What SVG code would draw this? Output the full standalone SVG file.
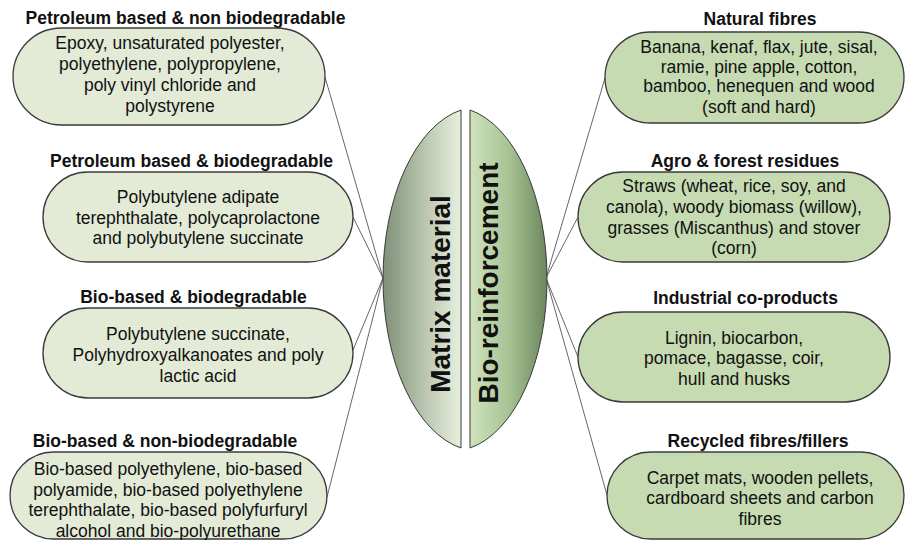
<svg xmlns="http://www.w3.org/2000/svg" width="906" height="540" viewBox="0 0 906 540">
<style>
text{font-family:"Liberation Sans",Arial,sans-serif;fill:#111;}
.h{font-size:17.5px;font-weight:bold;text-anchor:middle;}
.b{font-size:17.5px;text-anchor:middle;}
.c{font-size:28px;font-weight:bold;text-anchor:middle;}
.bl{fill:#e3ebd7;stroke:#3a3a3a;stroke-width:1.3;}
.br{fill:#c6dbb1;stroke:#3a3a3a;stroke-width:1.3;}
.ln{stroke:#555;stroke-width:0.9;fill:none;}
</style>
<defs>
<linearGradient id="gL" x1="0" y1="0" x2="1" y2="0">
<stop offset="0" stop-color="#7f8f78"/>
<stop offset="0.5" stop-color="#b6c3ac"/>
<stop offset="1" stop-color="#e8f0de"/>
</linearGradient>
<linearGradient id="gR" x1="0" y1="0" x2="1" y2="0">
<stop offset="0" stop-color="#cfe3bd"/>
<stop offset="0.5" stop-color="#a8c394"/>
<stop offset="1" stop-color="#6c865e"/>
</linearGradient>
</defs>
<rect width="906" height="540" fill="#fff"/>
<g id="connectors">
<line class="ln" x1="383" y1="278" x2="325" y2="77"/>
<line class="ln" x1="383" y1="278" x2="353" y2="217"/>
<line class="ln" x1="383" y1="278" x2="353" y2="350"/>
<line class="ln" x1="383" y1="278" x2="327" y2="497"/>
<line class="ln" x1="546" y1="278" x2="605" y2="78"/>
<line class="ln" x1="546" y1="278" x2="578" y2="217"/>
<line class="ln" x1="546" y1="278" x2="578" y2="357"/>
<line class="ln" x1="546" y1="278" x2="607" y2="495"/>
</g>
<g id="matrix">
<path d="M461,110 A95.8,172 0 0 0 461,448 Z" fill="url(#gL)" stroke="#3a3a3a" stroke-width="1"/>
<text class="c" transform="translate(450,294) rotate(-90)">Matrix material</text>
</g>
<g id="bioreinforcement">
<path d="M470,110 A94.6,172 0 0 1 470,448 Z" fill="url(#gR)" stroke="#3a3a3a" stroke-width="1"/>
<text class="c" transform="translate(498,283) rotate(-90)">Bio-reinforcement</text>
</g>
<g id="petro-nonbio">
<text class="h" x="185.5" y="24">Petroleum based &amp; non biodegradable</text>
<rect class="bl" x="13" y="28" width="312" height="97" rx="48.5"/>
<text class="b" x="170" y="49">Epoxy, unsaturated polyester,</text>
<text class="b" x="170" y="70">polyethylene, polypropylene,</text>
<text class="b" x="170" y="91">poly vinyl chloride and</text>
<text class="b" x="170" y="112">polystyrene</text>
</g>
<g id="petro-bio">
<text class="h" x="191.5" y="166.5">Petroleum based &amp; biodegradable</text>
<rect class="bl" x="43" y="172" width="310" height="90" rx="45"/>
<text class="b" x="198" y="203">Polybutylene adipate</text>
<text class="b" x="198" y="223.5">terephthalate, polycaprolactone</text>
<text class="b" x="198" y="244">and polybutylene succinate</text>
</g>
<g id="bio-bio">
<text class="h" x="193.5" y="302.5">Bio-based &amp; biodegradable</text>
<rect class="bl" x="43" y="308" width="310" height="90" rx="45"/>
<text class="b" x="198" y="339.5">Polybutylene succinate,</text>
<text class="b" x="198" y="360.5">Polyhydroxyalkanoates and poly</text>
<text class="b" x="198" y="381.5">lactic acid</text>
</g>
<g id="bio-nonbio">
<text class="h" x="165" y="446.5">Bio-based &amp; non-biodegradable</text>
<rect class="bl" x="10" y="452" width="317" height="87" rx="43.5"/>
<text class="b" x="168" y="475" font-size="17">Bio-based polyethylene, bio-based</text>
<text class="b" x="168" y="495.5" font-size="17">polyamide, bio-based polyethylene</text>
<text class="b" x="168" y="516" font-size="17">terephthalate, bio-based polyfurfuryl</text>
<text class="b" x="168" y="536.5" font-size="17">alcohol and bio-polyurethane</text>
</g>
<g id="natural-fibres">
<text class="h" x="760" y="25">Natural fibres</text>
<rect class="br" x="605" y="32" width="299" height="91" rx="45.5"/>
<text class="b" x="759" y="52.5">Banana, kenaf, flax, jute, sisal,</text>
<text class="b" x="759" y="72.5">ramie, pine apple, cotton,</text>
<text class="b" x="759" y="92">bamboo, henequen and wood</text>
<text class="b" x="759" y="112.5">(soft and hard)</text>
</g>
<g id="agro-forest">
<text class="h" x="745" y="166.5">Agro &amp; forest residues</text>
<rect class="br" x="578" y="172" width="312" height="90" rx="45"/>
<text class="b" x="734" y="191.5">Straws (wheat, rice, soy, and</text>
<text class="b" x="734" y="212.5">canola), woody biomass (willow),</text>
<text class="b" x="734" y="233.5">grasses (Miscanthus) and stover</text>
<text class="b" x="734" y="254">(corn)</text>
</g>
<g id="industrial">
<text class="h" x="745.5" y="304">Industrial co-products</text>
<rect class="br" x="578" y="312" width="312" height="90" rx="45"/>
<text class="b" x="734" y="343.5">Lignin, biocarbon,</text>
<text class="b" x="734" y="364">pomace, bagasse, coir,</text>
<text class="b" x="734" y="385">hull and husks</text>
</g>
<g id="recycled">
<text class="h" x="758" y="446.5">Recycled fibres/fillers</text>
<rect class="br" x="607" y="452" width="297" height="87" rx="43.5"/>
<text class="b" x="760" y="483.5">Carpet mats, wooden pellets,</text>
<text class="b" x="760" y="504">cardboard sheets and carbon</text>
<text class="b" x="760" y="525">fibres</text>
</g>
</svg>
